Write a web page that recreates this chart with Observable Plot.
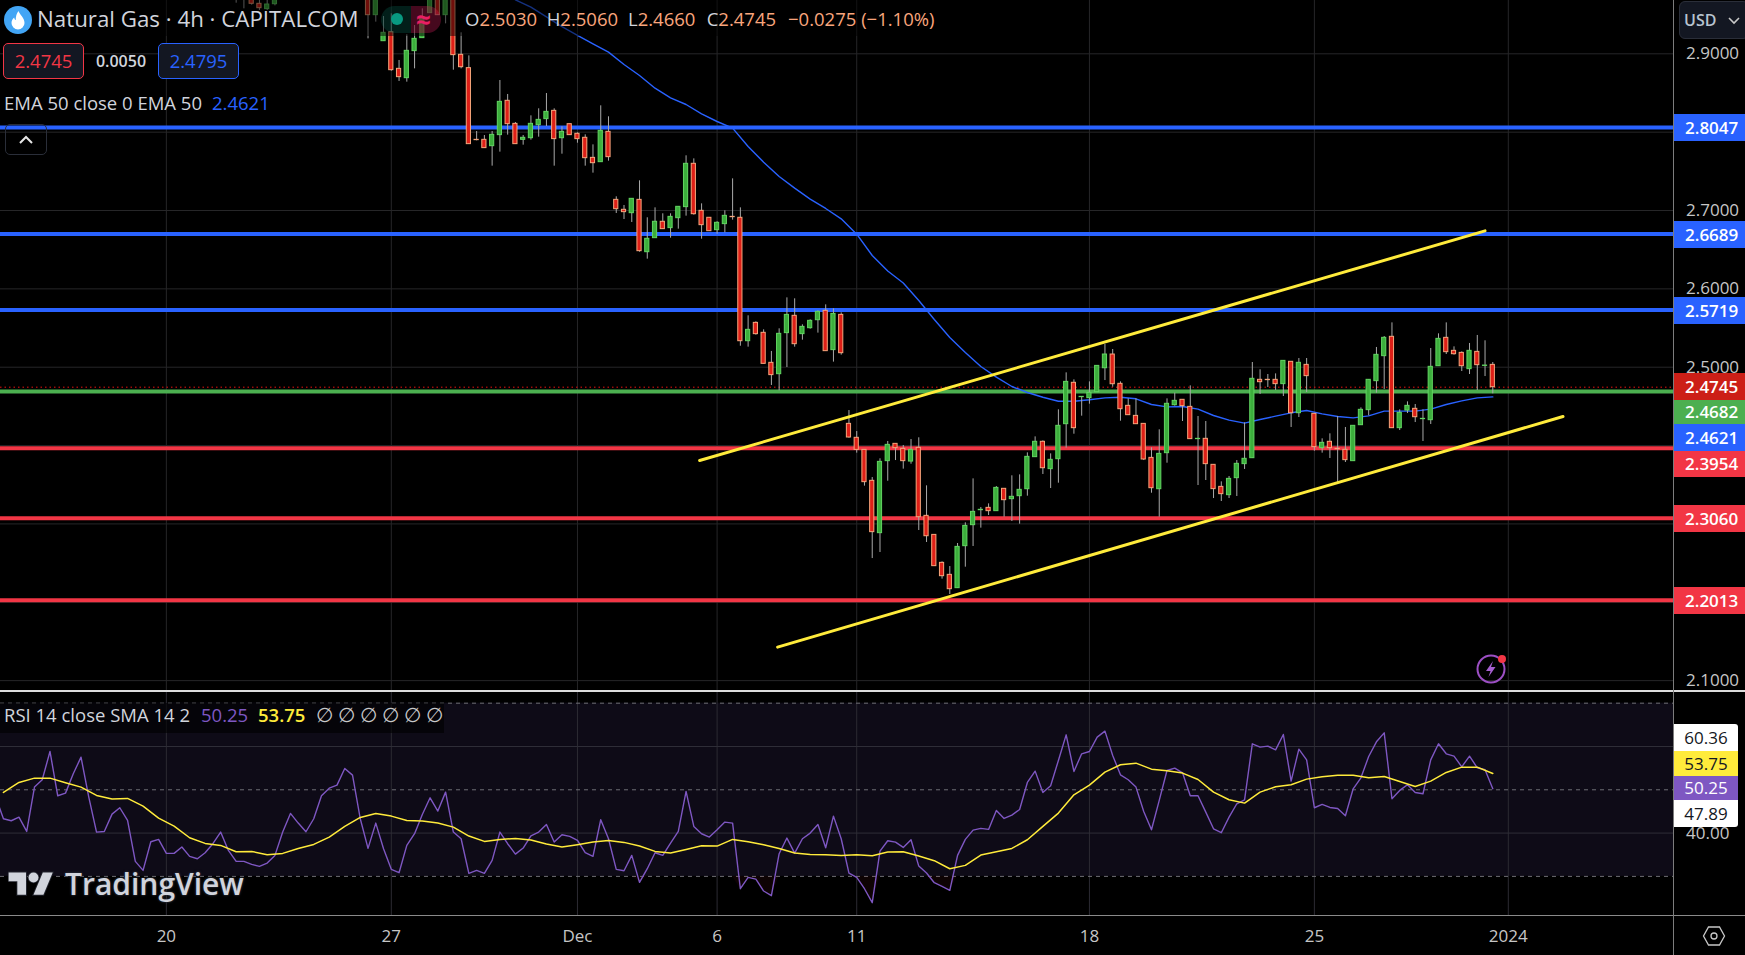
<!DOCTYPE html>
<html>
<head>
<meta charset="utf-8">
<script src="https://cdn.jsdelivr.net/npm/d3@7"></script>
<script src="https://cdn.jsdelivr.net/npm/@observablehq/plot@0.6"></script>
<style>
html,body{margin:0;padding:0;background:#000;overflow:hidden}
#chart{position:relative;width:1745px;height:955px;background:#000;overflow:hidden;font-family:"Open Sans","Noto Sans",sans-serif;color:#d1d4dc}
#chart > svg{display:block}
.pane{position:absolute;left:0}
.abs{position:absolute;white-space:nowrap}
</style>
</head>
<body>
<div id="chart"></div>
<script>
// ---- candles: index 31..36 and 48..193 are the ones inside the visible price window
const firstCandle = 31;
const opens = [2.985,2.978,2.9714,2.9638,2.9570,2.9633,null,null,null,null,null,null,null,null,null,null,null,
2.9808,2.9493,2.9161,2.9276,2.8808,2.8689,2.9034,2.9200,2.9519,2.9744,2.9493,2.9765,2.8987,2.8817,2.7902,2.7902,2.7821,2.7962,2.8400,2.8106,2.7902,2.7923,2.8089,2.8166,2.8272,2.7923,2.8102,2.7979,2.7928,2.7672,2.7617,2.8004,
2.7136,2.7009,2.6966,2.7136,2.6468,2.6647,2.6856,2.6775,2.6902,2.7043,2.7596,2.6996,2.6907,2.6749,2.6826,2.6919,2.6907,2.5332,2.5566,2.5439,2.5056,2.4911,2.5435,2.5656,2.5422,2.5498,2.5600,2.5720,2.5218,2.5668,
2.4277,2.4099,2.3945,2.3550,2.2882,2.3801,2.4022,2.3958,2.3796,2.3971,2.3103,2.2860,2.2503,2.2350,2.2180,2.2716,2.2984,2.3175,2.3205,2.3163,2.3448,2.3316,2.3354,2.3443,2.3852,2.4048,2.3699,2.3826,2.4273,2.4801,2.4618,2.4605,2.4681,2.4987,2.5162,2.4788,2.4507,2.4379,2.4277,2.3843,2.3443,2.3903,2.4515,
2.4584,2.4494,2.4082,2.4086,2.3754,2.3473,2.3367,2.3584,2.3763,2.3839,2.4839,2.4839,2.4839,2.4784,2.5069,2.4413,2.5030,2.4405,2.3967,2.4048,2.3958,2.3946,2.3801,2.4260,2.4452,2.4822,2.5141,2.5388,2.4222,2.4447,2.4469,2.4337,2.4324,2.5013,2.5375,2.5209,2.5183,2.4975,2.5196,2.5017,2.5030];
const closes = [2.980,2.982,2.9638,2.9582,2.9629,2.9697,null,null,null,null,null,null,null,null,null,null,null,
2.9493,2.9723,2.9268,2.8791,2.8702,2.9038,2.9191,2.9468,2.9744,2.9493,2.9723,2.8983,2.8829,2.7847,2.7898,2.7796,2.7966,2.8387,2.8102,2.7847,2.7928,2.8106,2.8157,2.8259,2.7911,2.8004,2.7962,2.7911,2.7668,2.7604,2.8017,2.7681,
2.7017,2.6979,2.7149,2.6481,2.6639,2.6856,2.6762,2.6919,2.7047,2.7596,2.6953,2.6813,2.6736,2.6843,2.6932,2.6915,2.5332,2.5477,2.5422,2.5043,2.4899,2.5426,2.5668,2.5294,2.5515,2.5592,2.5707,2.5205,2.5681,2.5179,
2.4103,2.3945,2.3533,2.2895,2.3792,2.4009,2.3967,2.3801,2.3945,2.3086,2.2843,2.2461,2.2333,2.2167,2.2707,2.2975,2.3154,2.3180,2.3163,2.3460,2.3303,2.3346,2.3435,2.3856,2.4048,2.3711,2.3818,2.4252,2.4813,2.4222,2.4622,2.4673,2.5017,2.5162,2.4783,2.4464,2.4388,2.4273,2.3822,2.3456,2.3894,2.4533,2.4571,
2.4503,2.4082,2.4086,2.3763,2.3444,2.3380,2.3575,2.3767,2.3831,2.4852,2.4809,2.4835,2.4784,2.5081,2.4413,2.5056,2.4886,2.3980,2.4035,2.3967,2.3954,2.3814,2.4252,2.4456,2.4839,2.5158,2.5375,2.4222,2.4418,2.4507,2.4362,2.4341,2.5005,2.5362,2.5192,2.5166,2.5013,2.5209,2.5026,2.5021,2.4745];
const highs = [2.99,2.985,2.98,2.968,2.968,2.975,null,null,null,null,null,null,null,null,null,null,null,
2.99,2.98,2.9476,2.9510,2.8915,2.9242,2.9361,2.9574,2.98,2.98,2.98,2.985,2.9268,2.8974,2.8008,2.7957,2.8008,2.8659,2.8481,2.8123,2.7957,2.8208,2.8298,2.8493,2.8298,2.8068,2.8102,2.7991,2.7966,2.7838,2.8336,2.8196,
2.7175,2.7064,2.7149,2.7379,2.6907,2.7034,2.6958,2.6958,2.7047,2.7698,2.7659,2.7085,2.6907,2.6856,2.6996,2.7404,2.7034,2.5656,2.5579,2.5477,2.5201,2.5490,2.5885,2.5873,2.5541,2.5605,2.5720,2.5796,2.5745,2.5694,
2.4447,2.4179,2.3945,2.3592,2.3831,2.4052,2.4022,2.4001,2.4077,2.4099,2.3486,2.2860,2.2516,2.2456,2.2750,2.3014,2.3575,2.3209,2.3256,2.3477,2.3448,2.3614,2.3626,2.3907,2.4111,2.4060,2.3894,2.4456,2.4928,2.4839,2.4622,2.4813,2.5017,2.5290,2.5226,2.4813,2.4596,2.4596,2.4277,2.3971,2.4201,2.4596,2.4669,
2.4584,2.4762,2.4371,2.4307,2.3754,2.3537,2.3605,2.3809,2.4290,2.5060,2.4967,2.4907,2.4915,2.5081,2.5069,2.5111,2.5111,2.4405,2.4086,2.4150,2.4371,2.4231,2.4252,2.4481,2.4839,2.5252,2.5392,2.5566,2.4456,2.4558,2.4524,2.4456,2.5239,2.5426,2.5566,2.5260,2.5196,2.5303,2.5405,2.5337,2.5060];
const lows = [2.9646,2.9574,2.9621,2.9553,2.9553,2.9612,null,null,null,null,null,null,null,null,null,null,null,
2.9191,2.9404,2.9161,2.8778,2.8647,2.8638,2.8808,2.9200,2.9519,2.9493,2.9382,2.8791,2.8808,2.7847,2.7889,2.7796,2.7566,2.7745,2.7962,2.7847,2.7834,2.7898,2.7936,2.8072,2.7566,2.7719,2.7962,2.7859,2.7566,2.7477,2.7617,2.7630,
2.6962,2.6885,2.6847,2.6468,2.6379,2.6647,2.6762,2.6647,2.6762,2.6928,2.6941,2.6634,2.6736,2.6698,2.6715,2.6877,2.5268,2.5256,2.5409,2.5043,2.4767,2.4699,2.4996,2.5256,2.5345,2.5486,2.5435,2.5205,2.5065,2.5154,
2.4094,2.3903,2.3482,2.2558,2.2635,2.3545,2.3809,2.3699,2.3762,2.2916,2.2763,2.2461,2.2295,2.2099,2.2180,2.2448,2.2712,2.2946,2.3107,2.3163,2.3086,2.3031,2.2997,2.3354,2.3852,2.3631,2.3452,2.3520,2.3967,2.4145,2.4375,2.4528,2.4681,2.4830,2.4745,2.4311,2.4388,2.4273,2.3809,2.3392,2.3086,2.3775,2.4503,
2.4307,2.4082,2.3490,2.3554,2.3324,2.3286,2.3324,2.3350,2.3695,2.3839,2.4652,2.4741,2.4703,2.4626,2.4231,2.4358,2.4677,2.3928,2.3903,2.3835,2.3529,2.3784,2.3801,2.4260,2.4379,2.4669,2.4716,2.4222,2.4192,2.4409,2.4294,2.4052,2.4269,2.5013,2.5162,2.5154,2.4945,2.4907,2.4703,2.4881,2.4660];

// ---- EMA 50 (every second candle from 67 on)
const emaFirst = 67;
const emaValues = [2.9689,2.9595,2.9472,2.9348,2.9234,2.9127,2.9021,2.8863,2.8723,2.8561,2.8438,2.8353,2.8234,2.8136,2.8051,2.7817,2.7617,2.7434,2.7285,2.7145,2.7026,2.6894,
2.6698,2.6426,2.6228,2.6075,2.5851,2.5609,2.5379,2.5188,2.5009,2.4873,2.4754,2.4677,2.4617,2.4566,2.4566,2.4584,2.4609,2.4617,2.4597,
2.4524,2.4494,2.4499,2.4465,2.4384,2.4324,2.4286,2.4333,2.4375,2.4418,2.4447,2.4405,2.4371,2.4354,2.4379,2.4439,2.4439,2.4439,2.4465,2.4524,2.4571,2.4609,2.4621];

// ---- RSI 14 (one per candle, index 0..193)
const rsiValues = [48.31,43.31,42.85,43.69,40.38,50.62,52.31,58.85,48.62,49.23,53.69,57.54,48.31,40.23,40.38,44.38,45.85,42.92,33.46,31.38,38.0,38.54,35.31,35.31,36.77,34.62,34.08,35.46,37.54,40.23,36.0,33.46,33.46,32.77,32.31,33.08,34.85,40.23,44.54,42.31,40.31,43.31,48.62,50.38,51.08,54.92,53.38,43.31,36.46,42.31,36.38,31.62,30.85,37.15,39.85,44.31,48.15,45.08,49.46,40.23,38.69,30.69,31.38,30.69,33.69,40.23,37.54,35.15,36.54,39.38,40.23,42.0,37.92,39.62,39.23,38.31,35.46,34.62,
43.08,38.69,31.62,31.31,34.85,28.62,31.77,35.46,34.85,37.69,40.38,49.62,41.54,39.85,39.08,40.77,42.54,42.31,27.15,29.77,29.38,26.62,25.54,35.23,38.85,35.38,38.69,40.0,42.0,36.62,43.92,38.69,30.77,29.77,27.15,23.92,35.85,38.23,37.92,36.69,38.46,32.38,30.77,28.54,27.69,26.77,34.85,38.54,40.69,41.08,40.85,45.23,43.38,44.15,45.46,51.69,54.31,49.38,50.92,56.77,62.69,54.23,58.31,58.85,62.15,63.54,57.92,53.46,52.31,50.62,45.0,40.77,
47.54,54.46,55.0,53.92,48.62,48.62,44.85,41.0,40.08,43.69,46.77,47.69,60.62,59.85,60.08,59.23,62.77,52.0,59.38,56.92,45.85,46.62,45.92,45.69,44.0,50.23,52.77,57.69,61.08,63.15,47.92,49.85,51.15,49.38,49.08,56.92,60.62,58.31,57.77,55.31,57.77,55.08,54.62,50.25];

// ---- RSI SMA (every second candle from 1 on)
const smaFirst = 1;
const smaValues = [49.38,51.69,52.69,52.69,51.62,50.62,48.69,47.85,48.0,46.23,43.46,41.62,38.92,37.62,37.15,35.69,35.77,35.0,35.31,36.46,37.38,39.08,41.54,43.62,44.54,43.92,42.92,42.77,42.31,41.38,39.31,38.08,38.54,38.77,38.38,37.46,36.77,37.31,37.92,
38.31,37.85,37.0,35.77,35.38,36.23,37.08,37.0,38.54,38.0,37.31,36.46,35.38,35.08,35.0,34.85,35.0,34.77,35.62,35.69,34.69,33.62,31.77,32.54,34.92,35.69,36.46,38.46,41.54,44.62,48.85,51.08,54.08,55.77,56.15,54.77,54.38,53.85,
52.38,49.46,47.69,46.92,49.46,50.69,51.15,52.46,53.0,53.38,53.38,52.77,53.08,51.92,50.77,52.0,54.0,55.23,55.23,53.75];

// ---- levels, trend lines, ticks
const blueLevels = [2.8047,2.6689,2.5719];
const greenLevels = [2.4682];
const redLevels = [2.3954,2.3060,2.2013];
const lastPrice = 2.4745;
const upperTrend = {x:[90.75,192], y:[2.3809,2.6740]};
const lowerTrend = {x:[100.8,202.05], y:[2.1428,2.4371]};
const priceGrid = [2.9,2.8,2.7,2.6,2.5,2.4,2.3,2.2,2.1];
const priceLabels = [2.9,2.7,2.6,2.5,2.1];
const rsiGrid = [60,40];
const rsiBands = [70,50,30];
const dateTicks = [22,51,75,93,111,141,170,195];
const dateLabels = ["20","27","Dec","6","11","18","25","2024"];

const xDomain = [0.62,216.36];
const W = 1745, RIGHT = 71.5;
const FONT = '"Open Sans","Noto Sans",sans-serif';
const GRID = "#262628";

const candles = opens.map((o,k)=>({i:firstCandle+k,o,c:closes[k],h:highs[k],l:lows[k]})).filter(d=>d.o!=null);
const ema = emaValues.map((v,k)=>({i:emaFirst+2*k,v}));
const rsi = rsiValues.map((v,i)=>({i,v}));
const sma = smaValues.map((v,k)=>({i:smaFirst+2*k,v}));
const trendRows = t=>t.x.map((x,k)=>({x,y:t.y[k]}));
const up = d=>d.c>=d.o;

const top_ = Plot.plot({
  width:W,height:690,marginLeft:0,marginRight:RIGHT,marginTop:0,marginBottom:0,
  style:{background:"transparent",fontFamily:FONT,fontSize:"17px",color:"#c6c6c6"},
  x:{type:"linear",domain:xDomain,axis:null},
  y:{type:"linear",domain:[2.0874,2.96803]},
  marks:[
    Plot.ruleX(dateTicks,{stroke:GRID,strokeWidth:1}),
    Plot.ruleY(priceGrid,{stroke:GRID,strokeWidth:1}),
    Plot.axisY({anchor:"right",ticks:priceLabels,tickFormat:d3.format(".4f"),tickSize:0,tickPadding:12,label:null,fill:"#c6c6c6",fontWeight:500}),
    Plot.ruleY([lastPrice],{stroke:"#e8140f",strokeWidth:1,strokeDasharray:"1.5 3"}),
    Plot.ruleY(blueLevels,{stroke:"#2962ff",strokeWidth:4,dy:-1}),
    Plot.ruleY(greenLevels,{stroke:"#4caf50",strokeWidth:4,dy:-0.7}),
    Plot.ruleY(redLevels,{stroke:"#f23645",strokeWidth:4,dy:-1}),
    Plot.line(ema,{x:"i",y:"v",stroke:"#2962ff",strokeWidth:1.4,curve:"linear",clip:true}),
    Plot.ruleX(candles,{x:"i",y1:"l",y2:"h",stroke:"#a9a9a9",strokeWidth:1,clip:true}),
    Plot.rect(candles,{x1:d=>d.i-0.27,x2:d=>d.i+0.27,y1:"o",y2:"c",
      fill:d=>up(d)?"#3cae3c":"#de1f17",stroke:d=>up(d)?"#62d662":"#f7a67c",strokeWidth:1,clip:true}),
    Plot.line(trendRows(upperTrend),{x:"x",y:"y",stroke:"#ffeb3b",strokeWidth:3}),
    Plot.line(trendRows(lowerTrend),{x:"x",y:"y",stroke:"#ffeb3b",strokeWidth:3})
  ]
});

const bottom_ = Plot.plot({
  width:W,height:265,marginLeft:0,marginRight:RIGHT,marginTop:0,marginBottom:39.5,
  style:{background:"transparent",fontFamily:FONT,fontSize:"17px",color:"#c6c6c6"},
  x:{type:"linear",domain:xDomain},
  y:{type:"linear",domain:[20.85,72.93]},
  marks:[
    Plot.rect([0],{x1:()=>xDomain[0],x2:()=>xDomain[1],y1:()=>30,y2:()=>70,fill:"#0e0b17"}),
    Plot.ruleX(dateTicks,{stroke:"#2c2b33",strokeWidth:1}),
    Plot.ruleY(rsiGrid,{stroke:"#2f2e38",strokeWidth:1}),
    Plot.ruleY(rsiBands,{stroke:"#6f6f75",strokeWidth:1,strokeDasharray:"4 4"}),
    Plot.axisY({anchor:"right",ticks:[40],tickFormat:d3.format(".2f"),tickSize:0,tickPadding:12,label:null,fill:"#c6c6c6",fontWeight:500}),
    Plot.axisX({anchor:"bottom",ticks:dateTicks,tickFormat:d=>dateLabels[dateTicks.indexOf(d)],tickSize:0,tickPadding:14,label:null,fill:"#c6c6c6",fontWeight:500}),
    Plot.areaY(rsi,{x:"i",y1:()=>30,y2:d=>Math.min(d.v,30),fill:"#f23645",fillOpacity:0.06}),
    Plot.line(rsi,{x:"i",y:"v",stroke:"#7e57c2",strokeWidth:1.4,clip:true}),
    Plot.line(sma,{x:"i",y:"v",stroke:"#ffeb3b",strokeWidth:1.5,clip:true})
  ]
});

const chart = document.getElementById("chart");
top_.classList.add("pane"); top_.style.top="0px";
bottom_.classList.add("pane"); bottom_.style.top="690px";
chart.append(top_,bottom_);

function el(css,html){const d=document.createElement("div");d.className="abs";d.style.cssText+=css;d.innerHTML=html||"";chart.append(d);return d;}

// pane separators
el("left:0;top:689.5px;width:1745px;height:2px;background:#dcdcdc");
el("left:0;top:915px;width:1745px;height:1px;background:#8a8a8a");
el("left:1673px;top:0;width:1px;height:955px;background:#7c7c7c");

// legend veil over the candles
el("left:0;top:0;width:940px;height:36px;background:rgba(0,0,0,.5)");

// title row
el("left:4px;top:6px;width:28px;height:28px","<svg width='28' height='28' viewBox='0 0 28 28'><circle cx='14' cy='14' r='14' fill='#42a5f5'/><path d='M14.5 5c1 3.5 6 6.5 6 12a6.5 6.5 0 0 1-13 0c0-2.6 1.3-4.4 2.7-5.6.2 1.3.7 2.2 1.6 2.7C11.6 10.800 12.500 7.500 14.500 5z' fill='#fff'/></svg>");
el("left:37px;top:4px;font-size:22.300px;line-height:30px;color:#d1d4dc","Natural Gas · 4h · CAPITALCOM");
el("left:381px;top:6px;width:30px;height:27px;border-radius:14px 0 0 14px;background:rgba(8,153,129,.2)");
el("left:411px;top:6px;width:30px;height:27px;border-radius:0 14px 14px 0;background:rgba(233,30,99,.3)");
el("left:390.500px;top:13px;width:12px;height:12px;border-radius:50%;background:#089981");
el("left:416px;top:1px;font-size:26px;line-height:36px;font-weight:700;color:#e91e63","≈");
const vO="color:#f9a57c";
const ohlcNames=["O","H","L","C"];
const ohlcText=["2.5030","2.5060","2.4660","2.4745"];
const ohlcLeft=[465,546.7,628,706.7];
ohlcNames.forEach((n,k)=>el(`left:${ohlcLeft[k]}px;top:5px;font-size:18.500px;line-height:28px;color:#d1d4dc`,`${n}<span style="${vO}">${ohlcText[k]}</span>`));
el(`left:788px;top:5px;font-size:18.500px;line-height:28px;${vO}`,"−0.0275 (−1.10%)");

// bid / ask
el("left:3px;top:43px;width:81px;height:36px;box-sizing:border-box;border:1px solid #f23645;border-radius:5px;background:#131722;color:#f23645;font-size:18.500px;line-height:34px;text-align:center","2.4745");
el("left:84px;top:43px;width:74px;height:36px;color:#d1d4dc;font-size:16px;line-height:36px;text-align:center;font-weight:600","0.0050");
el("left:158px;top:43px;width:81px;height:36px;box-sizing:border-box;border:1px solid #2962ff;border-radius:5px;background:#131722;color:#2962ff;font-size:18.500px;line-height:34px;text-align:center","2.4795");

// EMA legend
el("left:4px;top:89px;font-size:18.500px;line-height:28px;color:#d1d4dc","EMA 50 close 0 EMA 50");
el("left:212px;top:89px;font-size:18.500px;line-height:28px;color:#2962ff","2.4621");
el("left:5px;top:124px;width:42px;height:31px;box-sizing:border-box;border:1px solid #2a2e39;border-radius:5px",
 "<svg width='40' height='29'><path d='M14 18l6-6 6 6' fill='none' stroke='#e6e6e6' stroke-width='2'/></svg>");

// USD button
el("left:1679px;top:1px;width:70px;height:38px;box-sizing:border-box;border:1px solid #2a2e39;border-radius:6px;background:#131722;color:#b7c3d0;font-size:16px;line-height:36px;padding-left:4px;font-weight:600",
 "USD<svg width='14' height='10' style='margin-left:11px;vertical-align:baseline'><path d='M2 2l5 5 5-5' fill='none' stroke='#c8c8c8' stroke-width='1.6'/></svg>");

// price tags
const tagText  = ["2.8047","2.6689","2.5719","2.4745","2.4682","2.4621","2.3954","2.3060","2.2013"];
const tagTop   = [114,221,297,373,400,424,451,505,587];
const tagH     = [27,27,27,27,24,27,25.500,27,27];
const tagFill  = ["#2962ff","#2962ff","#2962ff","#cc1f17","#4caf50","#2962ff","#f23645","#f23645","#f23645"];
tagText.forEach((t,k)=>{
  el(`left:1674px;top:${tagTop[k]}px;width:71px;height:${tagH[k]}px;background:${tagFill[k]};color:#fff;font-size:17px;line-height:${tagH[k]}px;text-align:left;padding-left:11px;box-sizing:border-box;font-weight:600`,t);
});
// RSI tags
const rsiTagText=["60.36","53.75","50.25","47.89"];
const rsiTagTop=[724,751,776,800];
const rsiTagH=[27,25,24,27];
const rsiTagFill=["#fff","#ffeb3b","#7e57c2","#fff"];
const rsiTagInk=["#131722","#131722","#fff","#131722"];
rsiTagText.forEach((t,k)=>{
  el(`left:1674px;top:${rsiTagTop[k]}px;width:64px;height:${rsiTagH[k]}px;background:${rsiTagFill[k]};color:${rsiTagInk[k]};font-size:17px;line-height:${rsiTagH[k]}px;text-align:center;font-weight:500;border-radius:0 ${k==0?3:0}px ${k==3?3:0}px 0`,t);
});

// RSI legend
el("left:0;top:703px;width:444px;height:30px;background:rgba(0,0,0,.6)");
el("left:4px;top:700px;font-size:18.500px;line-height:30px;color:#d1d4dc","RSI 14 close SMA 14 2");
el("left:201px;top:700px;font-size:18.500px;line-height:30px;color:#7e57c2","50.25");
el("left:258px;top:700px;font-size:18.500px;line-height:30px;color:#ffeb3b;font-weight:600","53.75");
["∅","∅","∅","∅","∅","∅"].forEach((s,k)=>el(`left:${316+22*k}px;top:700px;font-size:20px;line-height:30px;color:#c8c8c8`,s));

// TradingView mark
el("left:8px;top:868px;width:46px;height:30px","<svg width='46' height='30' viewBox='-0.500 0.500 37 24'><g style='paint-order:stroke' stroke='#20232c' stroke-width='1.500' fill='#d1d4dc'><path d='M14 22H7V11H0V4h14v18zM28 22h-8l7.500-18h8L28 22z'/><circle cx='20' cy='8' r='4'/></g></svg>");
el("left:65px;top:861px;font-size:30px;line-height:46px;font-weight:600;color:#d1d4dc;text-shadow:0 0 3px #2a2e39,0 0 2px #2a2e39","TradingView");

// bolt badge
el("left:1475px;top:652px;width:34px;height:34px","<svg width='34' height='34'><circle cx='16' cy='17' r='13.500' fill='none' stroke='#9c4fc4' stroke-width='2'/><path d='M18 9l-7 10h4.500l-2 6 7-10h-4.500z' fill='#a65fd0'/><circle cx='27' cy='7' r='4' fill='#f23645'/></svg>");

// settings hexagon
el("left:1702px;top:925px;width:24px;height:22px","<svg width='24' height='22'><path d='M6.500 2h11l5 9-5 9h-11l-5-9z' fill='none' stroke='#c8c8c8' stroke-width='1.300'/><circle cx='12' cy='11' r='3' fill='none' stroke='#c8c8c8' stroke-width='1.300'/></svg>");
</script>
</body>
</html>
